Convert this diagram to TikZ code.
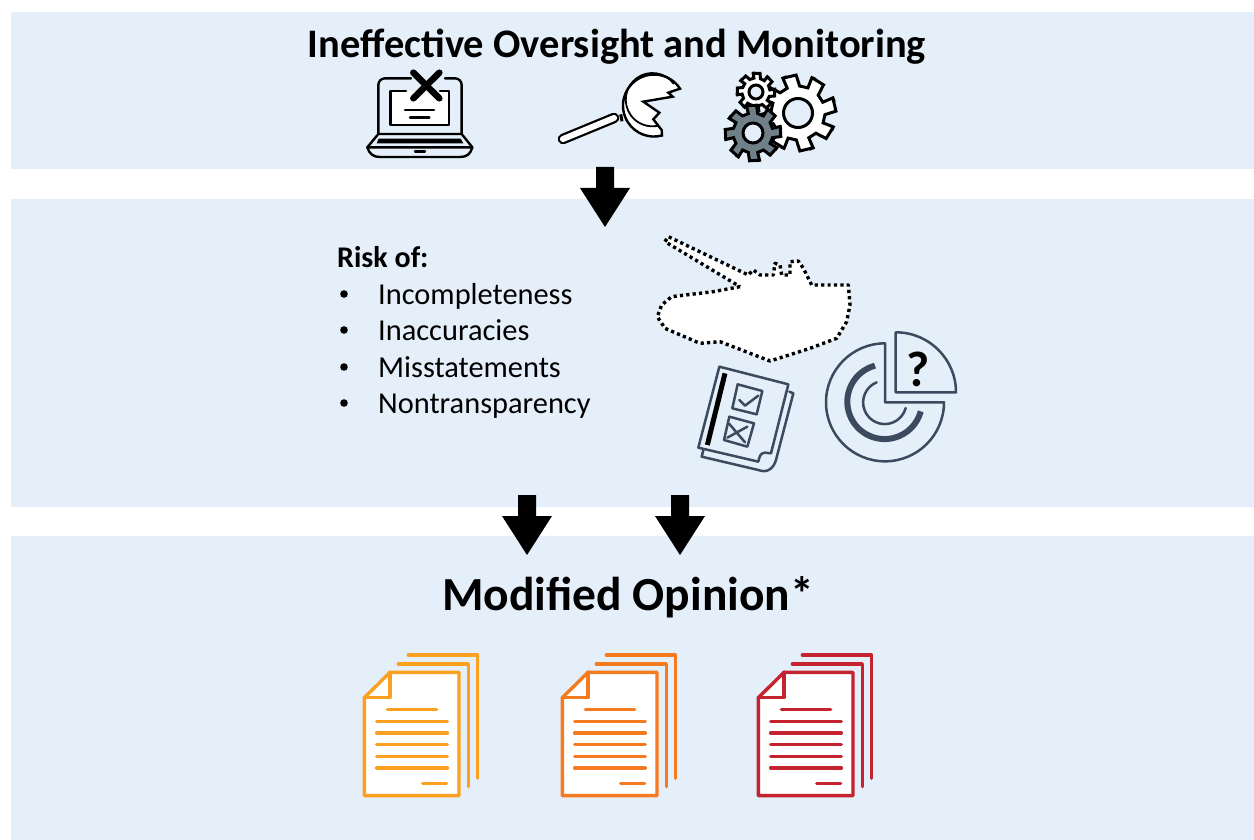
\documentclass[tikz,border=0pt]{standalone}
\usepackage{fontspec}
\setmainfont{Carlito}
\definecolor{panelblue}{HTML}{E4EFF9}
\definecolor{slate}{HTML}{3B4A5E}
\definecolor{gearfill}{HTML}{6F8088}
\definecolor{docA}{HTML}{FBA11F}
\definecolor{docB}{HTML}{F47B20}
\definecolor{docC}{HTML}{C4232F}
\tikzset{
  panel/.style={fill=panelblue,draw=none,inner sep=0pt,anchor=north west},
  listtext/.style={font=\fontsize{30.4}{33}\selectfont,anchor=base west,inner sep=0pt},
  zoomed/.style={shift={#1},scale=1/3},
  gearline/.style={draw=black,line width=3pt,line join=miter},
  icon/.style={draw=black,line width=2.4pt,line join=round,line cap=round},
  slateline/.style={draw=slate,line width=2.5pt,line join=round,line cap=round},
  docline/.style={line width=3.4pt,line cap=round,line join=round},
  tankline/.style={draw=black,fill=white,line width=3.4pt,dash pattern=on 3.2pt off 3.2pt,line join=round}
}
% block arrow: tip at (#1,#2)
\newcommand{\blockarrow}[2]{%
  \fill[black,shift={(#1,#2)}] (-9,-60) -- (9,-60) -- (9,-39) -- (25,-39) -- (0,0) -- (-25,-39) -- (-9,-39) -- cycle;}
% gear: centre, root radius, tip radius, hole radius, teeth, fill, rotation
\newcommand{\gearicon}[7]{%
  \pgfmathsetmacro{\gstep}{360/#5}
  \draw[gearline,fill=#6,shift={#1},rotate=#7]
    (-0.30*\gstep:#3)
    \foreach \gi in {1,...,#5}{
      -- ({(\gi-1)*\gstep+0.16*\gstep}:#3)
      -- ({(\gi-1)*\gstep+0.30*\gstep}:#2)
      -- ({(\gi-1)*\gstep+0.70*\gstep}:#2)
      -- ({\gi*\gstep-0.30*\gstep}:#3)
      -- ({\gi*\gstep-0.16*\gstep}:#3)
      -- ({\gi*\gstep-0.30*\gstep+0.0}:#3)
    } -- cycle;
  \draw[gearline,fill=panelblue,shift={#1}] (0,0) circle (#4);}
% document stack
\newcommand{\docstack}[2]{%
  \begin{scope}[zoomed={(#1,645)}]
    \draw[docline,#2] (160,30) -- (368,30) -- (368,400);
    \draw[docline,#2] (130,57) -- (340,57) -- (340,425);
    \draw[docline,#2,fill=white] (28,158) -- (105,82) -- (312,82) -- (312,452) -- (28,452) -- cycle;
    \draw[docline,#2] (105,82) -- (105,158) -- (28,158);
    \draw[docline,#2] (97,194) -- (245,194);
    \foreach \ly in {229,264,299,334,369}{\draw[docline,#2] (65,\ly) -- (277,\ly);}
    \draw[docline,#2] (203,415) -- (275,415);
  \end{scope}}
\begin{document}
\begin{tikzpicture}[x=1pt,y=-1pt]
\useasboundingbox (0,0) rectangle (1254,840);
\fill[white] (0,0) rectangle (1254,840);
% panels
\node[panel,minimum width=1243pt,minimum height=156.5pt] (top) at (11,12) {};
\node[panel,minimum width=1243pt,minimum height=307.5pt] (middle) at (11,199) {};
\node[panel,minimum width=1243pt,minimum height=304pt] (bottom) at (11,536) {};
% titles
\node[font=\fontsize{40.5}{44}\selectfont\bfseries,inner sep=0pt] (title) at (617,47) {Ineffective Oversight and Monitoring};
\node[font=\fontsize{47.5}{50}\selectfont\bfseries,inner sep=0pt] (opinion) at (628,597) {Modified Opinion*};
% arrows
\blockarrow{605}{227}
\blockarrow{527}{555}
\blockarrow{680}{555}
% list
\node[font=\fontsize{30}{33}\selectfont\bfseries,anchor=base west,inner sep=0pt] (risk) at (337,267) {Risk of:};
\foreach \nm/\ty/\tx in {i1/304/Incompleteness,i2/340/Inaccuracies,i3/377/Misstatements,i4/413/Nontransparency}{
  \node[listtext] (\nm) at (378,\ty) {\tx};
  \fill[black] (344,\ty-10) circle (3.8);
}
% laptop
\begin{scope}[zoomed={(350,60)}]
  \draw[icon] (85,222) -- (85,75) arc (180:270:20) -- (183,55);
  \draw[icon] (285,55) -- (315,55) arc (270:360:20) -- (335,222);
  \fill[white] (122,93) rectangle (297,195);
  \draw[icon] (168,93) -- (122,93) -- (122,195) -- (297,195) -- (297,93) -- (270,93);
  \draw[icon] (165,150) -- (252,150);
  \draw[icon] (180,173) -- (238,173);
  \draw[icon] (85,222) -- (335,222) -- (367,262) -- (52,262) -- cycle;
  \draw[icon] (52,262) .. controls (58,282) and (70,291) .. (90,291) -- (330,291) .. controls (350,291) and (362,282) .. (367,262);
  \fill[black] (86,236) -- (332,236) -- (340,250) -- (80,250) -- cycle;
  \draw[icon] (195,275) -- (225,275);
  \draw[black,line width=6.5pt,line cap=round] (190,38) -- (268,115);
  \draw[black,line width=6.5pt,line cap=round] (268,38) -- (190,115);
\end{scope}
% magnifier
\begin{scope}[zoomed={(600,60)}]
  \draw[black,line width=10.5pt,line cap=round] (-111,237) -- (42,174);
  \draw[white,line width=6pt,line cap=round] (-111,237) -- (42,174);
  \draw[black,line width=3pt] (62,163) -- (66,184);
  \draw[icon,fill=white,line cap=butt,line join=miter]
     (240,86) arc (-33:-285:93) -- (185,210) -- (160,178) -- (178,158) -- (130,125) -- (218,110) -- (205,98) -- cycle;
  \draw[black,line width=1.8pt] (222,72) arc (-36:-283:80);
\end{scope}
% gears
\gearicon{(798,113)}{27}{38}{14.5}{8}{white}{10}
\gearicon{(756,92)}{14}{19}{7}{8}{white}{-5}
\gearicon{(753,133)}{20}{28}{10}{8}{gearfill}{0}
% tank
\begin{scope}[zoomed={(650,225)}]
  \draw[tankline] (270,185) -- (190,200) -- (65,215) -- (35,240) -- (22,275) -- (45,310) -- (150,355) -- (210,350) -- (360,408) -- (480,370) -- (560,340) -- (590,290) -- (600,240) -- (595,180) -- (485,180) -- (460,130) -- (445,108) -- (420,110) -- (420,150) -- (395,150) -- (390,120) -- (375,115) -- (370,150) -- (330,150) -- (310,135) -- (295,150) -- (55,35) -- (45,50) -- cycle;
\end{scope}
% checklist
\begin{scope}[zoomed={(690,325)}]
  \draw[slateline] (298,200) -- (310,205) -- (258,405) .. controls (250,432) and (230,445) .. (205,435) -- (35,395) -- (40,375);
  \draw[slateline] (88,125) -- (295,178) -- (243,385) -- (225,383) .. controls (212,383) and (208,395) .. (205,410) -- (25,368) -- cycle;
  \draw[black,line width=5pt] (105,145) -- (52,360);
  \draw[slateline] (143,178) -- (217,198) -- (200,268) -- (127,250) -- cycle;
  \draw[slateline] (148,225) -- (165,242) -- (205,212);
  \draw[slateline] (118,275) -- (192,295) -- (172,365) -- (102,345) -- cycle;
  \draw[slateline] (118,297) -- (165,352);
  \draw[slateline] (172,305) -- (112,338);
\end{scope}
% pie chart
\begin{scope}[zoomed={(690,325)}]
  \draw[slateline] (585,55) arc (-90:-360:177) -- (585,232) -- cycle;
  \draw[draw=slate,line width=6pt] (555,122) arc (-105:-345:112);
  \draw[slateline] (560,172) arc (-112:-345:65);
  \draw[slateline] (617,22) -- (617,202) -- (798,202) arc (0:-90:180) -- cycle;
  \node[font=\fontsize{50}{54}\selectfont\bfseries,inner sep=0pt] (question) at (685,133) {?};
\end{scope}
% documents
\docstack{355}{docA}
\docstack{553}{docB}
\docstack{749}{docC}
\end{tikzpicture}
\end{document}
